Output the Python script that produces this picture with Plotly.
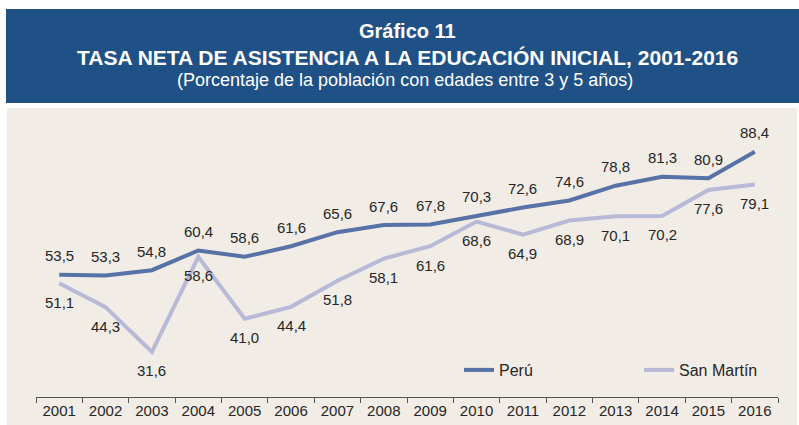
import plotly.graph_objects as go

years = ["2001", "2002", "2003", "2004", "2005", "2006", "2007", "2008",
         "2009", "2010", "2011", "2012", "2013", "2014", "2015", "2016"]
peru = [53.5, 53.3, 54.8, 60.4, 58.6, 61.6, 65.6, 67.6, 67.8, 70.3, 72.6, 74.6, 78.8, 81.3, 80.9, 88.4]
san_martin = [51.1, 44.3, 31.6, 58.6, 41.0, 44.4, 51.8, 58.1, 61.6, 68.6, 64.9, 68.9, 70.1, 70.2, 77.6, 79.1]

title1 = "Gráfico 11"
title2 = "TASA NETA DE ASISTENCIA A LA EDUCACIÓN INICIAL, 2001-2016"
title3 = "(Porcentaje de la población con edades entre 3 y 5 años)"

W, H = 799, 425
L, R = 36, 778   # plot area pixel x
T, B = 111, 397  # plot area pixel y

def fx(px):
    return (px - L) / (R - L)

def fy(py):
    return (B - py) / (B - T)

FONT = "Liberation Sans, Arial, sans-serif"
C_PERU = "#5672A6"
C_SM = "#B7B9D7"
TXT = "#262626"

fig = go.Figure()
fig.add_trace(go.Scatter(x=years, y=peru, name="Perú", mode="lines",
                         line=dict(color=C_PERU, width=4)))
fig.add_trace(go.Scatter(x=years, y=san_martin, name="San Martín", mode="lines",
                         line=dict(color=C_SM, width=4)))

ann = []
for i, v in enumerate(peru):
    ann.append(dict(x=i, y=v, text=f"{v:.1f}".replace(".", ","), showarrow=False,
                    yshift=19, font=dict(size=15, color=TXT, family=FONT)))
for i, v in enumerate(san_martin):
    ann.append(dict(x=i, y=v, text=f"{v:.1f}".replace(".", ","), showarrow=False,
                    yshift=-19, font=dict(size=15, color=TXT, family=FONT)))

ann.append(dict(xref="paper", yref="paper", x=fx(407), y=fy(31), text=f"<b>{title1}</b>",
                showarrow=False, xanchor="center", yanchor="middle",
                font=dict(size=20, color="white", family=FONT)))
ann.append(dict(xref="paper", yref="paper", x=fx(407), y=fy(57), text=f"<b>{title2}</b>",
                showarrow=False, xanchor="center", yanchor="middle",
                font=dict(size=21, color="white", family=FONT)))
ann.append(dict(xref="paper", yref="paper", x=fx(405), y=fy(80), text=title3,
                showarrow=False, xanchor="center", yanchor="middle",
                font=dict(size=18, color="white", family=FONT)))

shapes = [
    dict(type="rect", xref="paper", yref="paper", x0=fx(6), x1=fx(799), y0=fy(9), y1=fy(103),
         fillcolor="#1F5186", line=dict(width=0), layer="below"),
    dict(type="rect", xref="paper", yref="paper", x0=fx(7), x1=fx(797), y0=fy(108), y1=fy(425),
         fillcolor="#F1ECE5", line=dict(width=0), layer="below"),
]

fig.update_layout(
    width=W, height=H,
    margin=dict(l=L, r=W - R, t=T, b=H - B, pad=0, autoexpand=False),
    paper_bgcolor="white",
    plot_bgcolor="rgba(0,0,0,0)",
    font=dict(family=FONT, color=TXT),
    showlegend=True,
    legend=dict(orientation="h", x=fx(459), y=fy(370), xanchor="left", yanchor="middle",
                bgcolor="rgba(0,0,0,0)", font=dict(size=16, color=TXT, family=FONT),
                entrywidth=135, entrywidthmode="pixels"),
    xaxis=dict(type="category", range=[-0.5, 15.5], showgrid=False, zeroline=False,
               showline=True, linecolor="#555555", linewidth=1,
               ticks="outside", tickson="boundaries", ticklen=5, tickcolor="#555555",
               tickfont=dict(size=15, color=TXT, family=FONT)),
    yaxis=dict(range=[18.8, 100], showgrid=False, zeroline=False, showline=False,
               showticklabels=False, ticks=""),
    annotations=ann,
    shapes=shapes,
)

fig.write_html("out.html", config={"responsive": False, "displayModeBar": False},
               post_script="document.body.style.margin='0';document.body.style.padding='0';document.body.style.overflow='hidden';")
